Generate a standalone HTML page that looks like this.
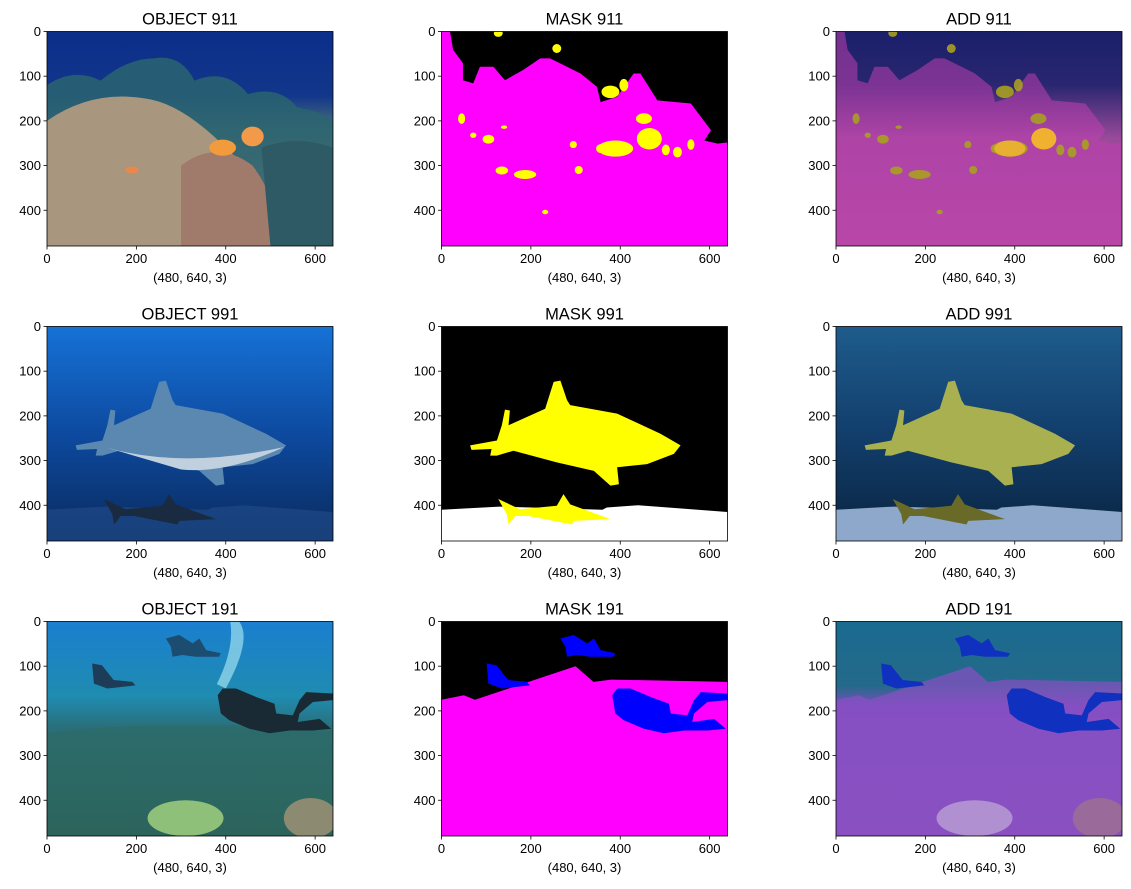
<!DOCTYPE html>
<html><head><meta charset="utf-8">
<style>
body{margin:0;background:#fff;width:1131px;height:889px;overflow:hidden;font-family:"Liberation Sans","DejaVu Sans",sans-serif;}
svg{display:block}
</style></head><body>
<svg id="fig" width="1131" height="889" xmlns="http://www.w3.org/2000/svg"></svg>
<script>
const xTicks=[0,200,400,600];
const yTicks=[0,100,200,300,400];
const imgW=640, imgH=480;
const titles=[["OBJECT 911","MASK 911","ADD 911"],["OBJECT 991","MASK 991","ADD 991"],["OBJECT 191","MASK 191","ADD 191"]];
const shapeLabel="(480, 640, 3)";
const colX=[47,441.5,836], rowY=[31.5,326.5,621.5], PW=286, PH=214.5;

const reefBoundary=[[0,0],[19,0],[26,41],[48,71],[48,109],[71,116],[86,79],[116,79],[142,109],[183,86],[221,60],[243,60],[311,94],[348,124],[356,158],[393,146],[430,94],[445,94],[483,154],[558,161],[603,221],[588,244],[618,251],[640,248],[640,480],[0,480]];
const fish=[[127,4,10,8],[258,38,10,10],[378,135,20,14],[408,120,10,14],[453,195,18,12],[465,240,28,24],[389,262,40,18],[356,262,10,10],[295,253,8,8],[307,310,9,9],[187,320,25,10],[135,311,14,9],[45,195,8,12],[71,232,7,6],[105,241,13,10],[140,214,7,4],[232,404,7,5],[502,265,9,12],[528,270,10,12],[558,253,8,12]];
const bigShark=[[64,266],[124,255],[135,221],[142,186],[153,188],[150,221],[232,184],[251,124],[266,121],[281,165],[288,176],[393,195],[490,240],[535,266],[520,285],[460,308],[393,315],[397,353],[378,356],[341,323],[258,304],[161,278],[124,289],[109,289],[112,274],[67,276]];
const smallShark=[[127,386],[176,409],[258,401],[273,375],[288,398],[378,431],[296,435],[292,443],[195,424],[165,424],[150,443],[146,420]];
const sand=[[0,410],[130,403],[200,405],[360,410],[370,405],[440,400],[640,415],[640,480],[0,480]];
const seaBoundary=[[0,175],[50,165],[75,175],[300,100],[340,135],[380,130],[640,135],[640,480],[0,480]];
const diverBig=[[382,165],[393,150],[423,150],[468,169],[509,184],[513,206],[550,210],[565,176],[580,158],[640,161],[640,176],[595,180],[565,206],[561,225],[610,218],[636,240],[595,244],[543,244],[498,250],[453,240],[408,221],[389,206]];
const diverLeft=[[101,94],[123,98],[149,131],[191,135],[198,143],[153,148],[135,150],[105,139]];
const diverTop=[[266,38],[296,30],[326,49],[341,38],[356,64],[389,71],[385,79],[333,79],[303,75],[281,79],[277,56]];

const NS="http://www.w3.org/2000/svg";
const fig=document.getElementById('fig');
function el(tag,attrs,parent){const e=document.createElementNS(NS,tag);for(const k in attrs)e.setAttribute(k,attrs[k]);(parent||fig).appendChild(e);return e;}
function pts(a){return a.map(p=>p.join(',')).join(' ');}
const defs=el('defs',{});
function grad(id,stops,vert=true){const g=el('linearGradient',{id:id,x1:0,y1:0,x2:vert?0:1,y2:vert?1:0},defs);stops.forEach(s=>el('stop',{offset:s[0],'stop-color':s[1]},g));}
grad('g911o',[[0,'#0b2f8a'],[0.3,'#12368a'],[0.45,'#4a6f7a'],[0.7,'#a89382'],[1,'#8a7a66']]);
grad('g911a',[[0,'#1a1f6a'],[0.25,'#2a2670'],[0.5,'#9a4a9a'],[1,'#b0509e']]);
grad('g991o',[[0,'#1672d6'],[0.5,'#0d4aa0'],[1,'#0a2a5c']]);
grad('g991a',[[0,'#1e5c8c'],[0.5,'#123e6c'],[1,'#0a2440']]);
grad('g191o',[[0,'#1a7fd0'],[0.35,'#1f8cb0'],[0.5,'#2a6e78'],[1,'#2a5a50']]);
grad('g191a',[[0,'#1a6a90'],[0.3,'#246a8a'],[0.4,'#7a4fbe'],[1,'#8a52b8']]);
function xs(v){return v/imgW*PW;} function ys(v){return v/imgH*PH;}

function panel(r,c){
  const x0=colX[c],y0=rowY[r];
  const g=el('g',{});
  
  
  const img=el('svg',{x:x0,y:y0,width:PW,height:PH,viewBox:'0 0 640 480',preserveAspectRatio:'none'},g);
  
  
  drawImage(img,r,c);
  const fr=el('rect',{x:x0,y:y0,width:PW,height:PH,fill:'none',stroke:'#000','stroke-width':0.8},g);
  
  
  xTicks.forEach(v=>{const tx=x0+xs(v);
    el('line',{x1:tx,y1:y0+PH,x2:tx,y2:y0+PH+3.5,stroke:'#000','stroke-width':0.8},g);
    const t=el('text',{x:tx,y:y0+PH+17,'font-size':13,'text-anchor':'middle',fill:'#000'},g);t.textContent=v;
    
    });
  yTicks.forEach(v=>{const ty=y0+ys(v);
    el('line',{x1:x0,y1:ty,x2:x0-3.5,y2:ty,stroke:'#000','stroke-width':0.8},g);
    const t=el('text',{x:x0-6,y:ty+4.5,'font-size':13,'text-anchor':'end',fill:'#000'},g);t.textContent=v;
    
    });
  const ti=el('text',{x:x0+PW/2,y:y0-7,'font-size':16.5,'text-anchor':'middle',fill:'#000'},g);ti.textContent=titles[r][c];
  
  
  const xl=el('text',{x:x0+PW/2,y:y0+PH+36,'font-size':13,'text-anchor':'middle',fill:'#000'},g);xl.textContent=shapeLabel;
  
  
}
function fishes(p,col,op){fish.forEach(f=>el('ellipse',{cx:f[0],cy:f[1],rx:f[2],ry:f[3],fill:col,opacity:op},p));}
function drawImage(p,r,c){
  if(r===0){
    if(c===0){el('rect',{width:640,height:480,fill:'url(#g911o)'},p);
      el('path',{d:'M0 120 Q60 80 120 110 Q180 60 240 60 Q300 50 330 110 Q400 80 450 140 Q520 120 560 170 Q620 180 640 200 L640 480 L0 480Z',fill:'#2a6470',opacity:0.85},p);
      el('path',{d:'M0 200 Q100 130 220 150 Q300 160 400 260 Q450 300 480 400 L480 480 L0 480Z',fill:'#a8967e'},p);
      el('path',{d:'M300 300 Q380 240 460 300 Q520 380 520 480 L300 480Z',fill:'#a07a6a'},p);
      el('path',{d:'M480 260 Q560 230 640 260 L640 480 L500 480Z',fill:'#2e5a66'},p);
      el('ellipse',{cx:393,cy:260,rx:30,ry:18,fill:'#f19b3c'},p);el('ellipse',{cx:460,cy:235,rx:25,ry:22,fill:'#f09a4a'},p);
      el('ellipse',{cx:190,cy:310,rx:15,ry:8,fill:'#e8894a'},p);}
    else if(c===1){el('rect',{width:640,height:480,fill:'#000'},p);el('polygon',{points:pts(reefBoundary),fill:'#ff00ff'},p);fishes(p,'#ffff00',1);}
    else {el('rect',{width:640,height:480,fill:'url(#g911a)'},p);el('polygon',{points:pts(reefBoundary),fill:'#c040b0',opacity:0.55},p);fishes(p,'#a8a020',0.9);
      el('ellipse',{cx:465,cy:240,rx:28,ry:24,fill:'#f0b030'},p);el('ellipse',{cx:389,cy:262,rx:35,ry:18,fill:'#e8b030'},p);}
  } else if(r===1){
    if(c===0){el('rect',{width:640,height:480,fill:'url(#g991o)'},p);
      el('polygon',{points:pts(bigShark),fill:'#5a88b0'},p);
      el('path',{d:'M130 270 Q300 320 530 270 Q400 330 300 320Z',fill:'#c0d0de'},p);
      el('polygon',{points:pts(sand),fill:'#1e4a88',opacity:0.7},p);
      el('polygon',{points:pts(smallShark),fill:'#1a2a40'},p);}
    else if(c===1){el('rect',{width:640,height:480,fill:'#000'},p);el('polygon',{points:pts(sand),fill:'#fff'},p);
      el('polygon',{points:pts(bigShark),fill:'#ffff00'},p);el('polygon',{points:pts(smallShark),fill:'#ffff00'},p);}
    else {el('rect',{width:640,height:480,fill:'url(#g991a)'},p);el('polygon',{points:pts(sand),fill:'#8ea8cc'},p);
      el('polygon',{points:pts(bigShark),fill:'#a9b050'},p);el('polygon',{points:pts(smallShark),fill:'#6a6a28'},p);}
  } else {
    if(c===0){el('rect',{width:640,height:480,fill:'url(#g191o)'},p);
      el('path',{d:'M0 250 Q200 220 640 240 L640 480 L0 480Z',fill:'#2f6a64',opacity:0.6},p);
      el('path',{d:'M430 0 Q460 40 400 150 L380 140 Q420 60 410 0Z',fill:'#9ee0f0',opacity:0.7},p);
      el('polygon',{points:pts(diverBig),fill:'#1a2a34'},p);el('polygon',{points:pts(diverLeft),fill:'#1c3c58'},p);el('polygon',{points:pts(diverTop),fill:'#1c4c70'},p);
      el('ellipse',{cx:310,cy:440,rx:85,ry:40,fill:'#8ec07a'},p);el('ellipse',{cx:590,cy:440,rx:60,ry:45,fill:'#8c8a70'},p);}
    else if(c===1){el('rect',{width:640,height:480,fill:'#000'},p);el('polygon',{points:pts(seaBoundary),fill:'#ff00ff'},p);
      [diverBig,diverLeft,diverTop].forEach(d=>el('polygon',{points:pts(d),fill:'#0000ff'},p));}
    else {el('rect',{width:640,height:480,fill:'url(#g191a)'},p);el('polygon',{points:pts(seaBoundary),fill:'#8a50c4',opacity:0.7},p);
      el('ellipse',{cx:310,cy:440,rx:85,ry:40,fill:'#b090d0'},p);el('ellipse',{cx:590,cy:440,rx:60,ry:45,fill:'#9a6a9a'},p);
      [diverBig,diverLeft,diverTop].forEach(d=>el('polygon',{points:pts(d),fill:'#1030c0'},p));}
  }
}
for(let r=0;r<3;r++)for(let c=0;c<3;c++)panel(r,c);
</script>
</body></html>
